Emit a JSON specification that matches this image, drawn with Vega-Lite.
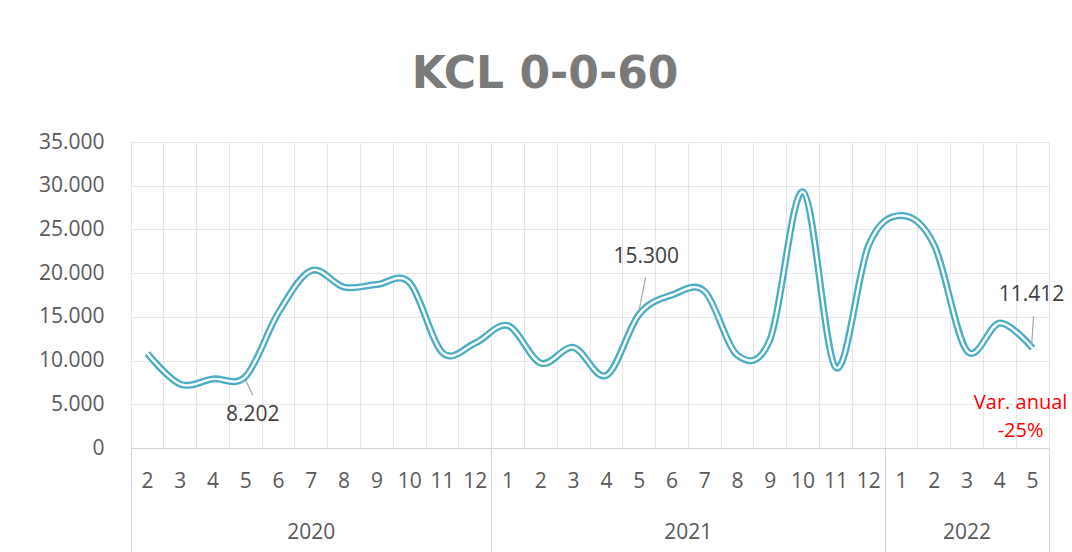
{
  "$schema": "https://vega.github.io/schema/vega-lite/v6.json",
  "width": 918,
  "height": 306,
  "autosize": {"type": "none"},
  "padding": {"left": 131, "top": 142, "right": 23, "bottom": 104},
  "background": "white",
  "title": {
    "text": "KCL 0-0-60",
    "font": "DejaVu Sans",
    "fontSize": 44,
    "fontWeight": "bold",
    "color": "#7a7a7a",
    "anchor": "middle",
    "baseline": "alphabetic",
    "dx": -45,
    "offset": -1
  },
  "config": {
    "locale": {"number": {"decimal": ",", "thousands": ".", "grouping": [3], "currency": ["", " €"]}},
    "view": {"stroke": null},
    "axis": {"labelFont": "Open Sans", "labelFontSize": 21, "labelColor": "#595959", "title": null}
  },
  "data": {
    "values": [
      {"periodo": "2020-2", "toneladas": 10800},
      {"periodo": "2020-3", "toneladas": 7300},
      {"periodo": "2020-4", "toneladas": 7900},
      {"periodo": "2020-5", "toneladas": 8202},
      {"periodo": "2020-6", "toneladas": 15500},
      {"periodo": "2020-7", "toneladas": 20300},
      {"periodo": "2020-8", "toneladas": 18400},
      {"periodo": "2020-9", "toneladas": 18700},
      {"periodo": "2020-10", "toneladas": 18900},
      {"periodo": "2020-11", "toneladas": 10900},
      {"periodo": "2020-12", "toneladas": 12000},
      {"periodo": "2021-1", "toneladas": 14000},
      {"periodo": "2021-2", "toneladas": 9700},
      {"periodo": "2021-3", "toneladas": 11500},
      {"periodo": "2021-4", "toneladas": 8300},
      {"periodo": "2021-5", "toneladas": 15300},
      {"periodo": "2021-6", "toneladas": 17500},
      {"periodo": "2021-7", "toneladas": 17900},
      {"periodo": "2021-8", "toneladas": 10600},
      {"periodo": "2021-9", "toneladas": 12500},
      {"periodo": "2021-10", "toneladas": 29300},
      {"periodo": "2021-11", "toneladas": 9200},
      {"periodo": "2021-12", "toneladas": 23200},
      {"periodo": "2022-1", "toneladas": 26600},
      {"periodo": "2022-2", "toneladas": 23200},
      {"periodo": "2022-3", "toneladas": 11100},
      {"periodo": "2022-4", "toneladas": 14300},
      {"periodo": "2022-5", "toneladas": 11412}
    ]
  },
  "resolve": {"axis": {"x": "independent"}},
  "layer": [
    {
      "mark": {"type": "line", "interpolate": "cardinal", "color": "#4BACC6", "strokeWidth": 7},
      "encoding": {
        "x": {
          "field": "periodo", "type": "ordinal", "sort": null,
          "scale": {
            "domain": ["2020-2","2020-3","2020-4","2020-5","2020-6","2020-7","2020-8","2020-9","2020-10","2020-11","2020-12",
                       "2021-1","2021-2","2021-3","2021-4","2021-5","2021-6","2021-7","2021-8","2021-9","2021-10","2021-11","2021-12",
                       "2022-1","2022-2","2022-3","2022-4","2022-5"],
            "paddingInner": 0, "paddingOuter": 0
          },
          "axis": {"orient": "bottom", "bandPosition": 0, "grid": true, "gridColor": "#e6e6e6", "labels": false, "ticks": false, "domain": true, "domainColor": "#d4d4d4", "title": null}
        },
        "y": {
          "field": "toneladas", "type": "quantitative", "title": null,
          "scale": {"domain": [0, 35000]},
          "axis": {"values": [0, 5000, 10000, 15000, 20000, 25000, 30000, 35000], "format": ",d", "domain": false, "ticks": false, "grid": true, "gridColor": "#e6e6e6", "labelPadding": 27, "title": null}
        }
      }
    },
    {
      "mark": {"type": "line", "interpolate": "cardinal", "color": "white", "strokeWidth": 2.4},
      "encoding": {
        "x": {
          "field": "periodo", "type": "ordinal", "sort": null,
          "axis": {"orient": "bottom", "bandPosition": 0.5, "grid": false, "ticks": false, "domain": false, "labelExpr": "split(datum.value, '-')[1]", "labelBaseline": "middle", "labelPadding": 33, "labelAngle": 0, "labelOverlap": false, "title": null}
        },
        "y": {"field": "toneladas", "type": "quantitative", "title": null}
      }
    },
    {
      "transform": [{"filter": "datum.periodo == '2020-5'"}],
      "mark": {"type": "rule", "color": "#a6a6a6", "strokeWidth": 1.2, "yOffset": 4, "x2Offset": 7, "y2Offset": 19},
      "encoding": {
        "x": {
          "field": "periodo", "type": "ordinal", "sort": null,
          "axis": {"orient": "bottom", "values": ["2020-2", "2021-1", "2022-1"], "bandPosition": 0, "labels": false, "ticks": true, "tickSize": 104, "tickColor": "#d4d4d4", "domain": false, "grid": false, "title": null}
        },
        "x2": {"field": "periodo"},
        "y": {"field": "toneladas", "type": "quantitative", "title": null},
        "y2": {"field": "toneladas"}
      }
    },
    {
      "transform": [{"filter": "datum.periodo == '2021-5'"}],
      "mark": {"type": "rule", "color": "#a6a6a6", "strokeWidth": 1.2, "yOffset": -4, "x2Offset": 6.5, "y2Offset": -37},
      "encoding": {
        "x": {"field": "periodo", "type": "ordinal", "sort": null, "axis": null},
        "x2": {"field": "periodo"},
        "y": {"field": "toneladas", "type": "quantitative", "title": null},
        "y2": {"field": "toneladas"}
      }
    },
    {
      "transform": [{"filter": "datum.periodo == '2022-5'"}],
      "mark": {"type": "rule", "color": "#a6a6a6", "strokeWidth": 1.2, "xOffset": -1, "yOffset": -3, "x2Offset": 1, "y2Offset": -32},
      "encoding": {
        "x": {"field": "periodo", "type": "ordinal", "sort": null, "axis": null},
        "x2": {"field": "periodo"},
        "y": {"field": "toneladas", "type": "quantitative", "title": null},
        "y2": {"field": "toneladas"}
      }
    },
    {
      "transform": [{"filter": "datum.periodo == '2020-5'"}],
      "mark": {"type": "text", "font": "Open Sans", "fontSize": 21, "color": "#404040", "align": "center", "baseline": "middle", "dx": 7, "dy": 39},
      "encoding": {
        "x": {
          "field": "periodo", "type": "ordinal", "sort": null,
          "axis": {"orient": "bottom", "values": ["2020-7", "2021-6", "2022-3"], "bandPosition": 0.5, "labelExpr": "split(datum.value, '-')[0]",
                   "labelOffset": {"condition": {"test": "datum.value == '2021-6'", "value": 16.4}, "value": 0},
                   "ticks": false, "domain": false, "grid": false, "labelPadding": 84, "labelBaseline": "middle", "labelAngle": 0, "labelOverlap": false, "title": null}
        },
        "y": {"field": "toneladas", "type": "quantitative", "title": null},
        "text": {"field": "toneladas", "type": "quantitative", "format": ",d"}
      }
    },
    {
      "transform": [{"filter": "datum.periodo == '2021-5'"}],
      "mark": {"type": "text", "font": "Open Sans", "fontSize": 21, "color": "#404040", "align": "center", "baseline": "middle", "dx": 7, "dy": -57},
      "encoding": {
        "x": {"field": "periodo", "type": "ordinal", "sort": null, "axis": null},
        "y": {"field": "toneladas", "type": "quantitative", "title": null},
        "text": {"field": "toneladas", "type": "quantitative", "format": ",d"}
      }
    },
    {
      "transform": [{"filter": "datum.periodo == '2022-5'"}],
      "mark": {"type": "text", "font": "Open Sans", "fontSize": 21, "color": "#404040", "align": "center", "baseline": "middle", "dx": -1, "dy": -53},
      "encoding": {
        "x": {"field": "periodo", "type": "ordinal", "sort": null, "axis": null},
        "y": {"field": "toneladas", "type": "quantitative", "title": null},
        "text": {"field": "toneladas", "type": "quantitative", "format": ",d"}
      }
    },
    {
      "transform": [{"filter": "datum.periodo == '2022-5'"}],
      "mark": {"type": "text", "font": "Open Sans", "fontSize": 20, "color": "#ff0000", "align": "center", "baseline": "middle", "lineHeight": 27.4, "dx": -12, "dy": 55},
      "encoding": {
        "x": {
          "field": "periodo", "type": "ordinal", "sort": null,
          "axis": {"orient": "bottom", "values": ["2022-5"], "bandPosition": 1, "labels": false, "ticks": true, "tickSize": 104, "tickColor": "#d4d4d4", "grid": true, "gridColor": "#e6e6e6", "domain": false, "title": null}
        },
        "y": {"field": "toneladas", "type": "quantitative", "title": null},
        "text": {"value": ["Var. anual", "-25%"]}
      }
    }
  ]
}
